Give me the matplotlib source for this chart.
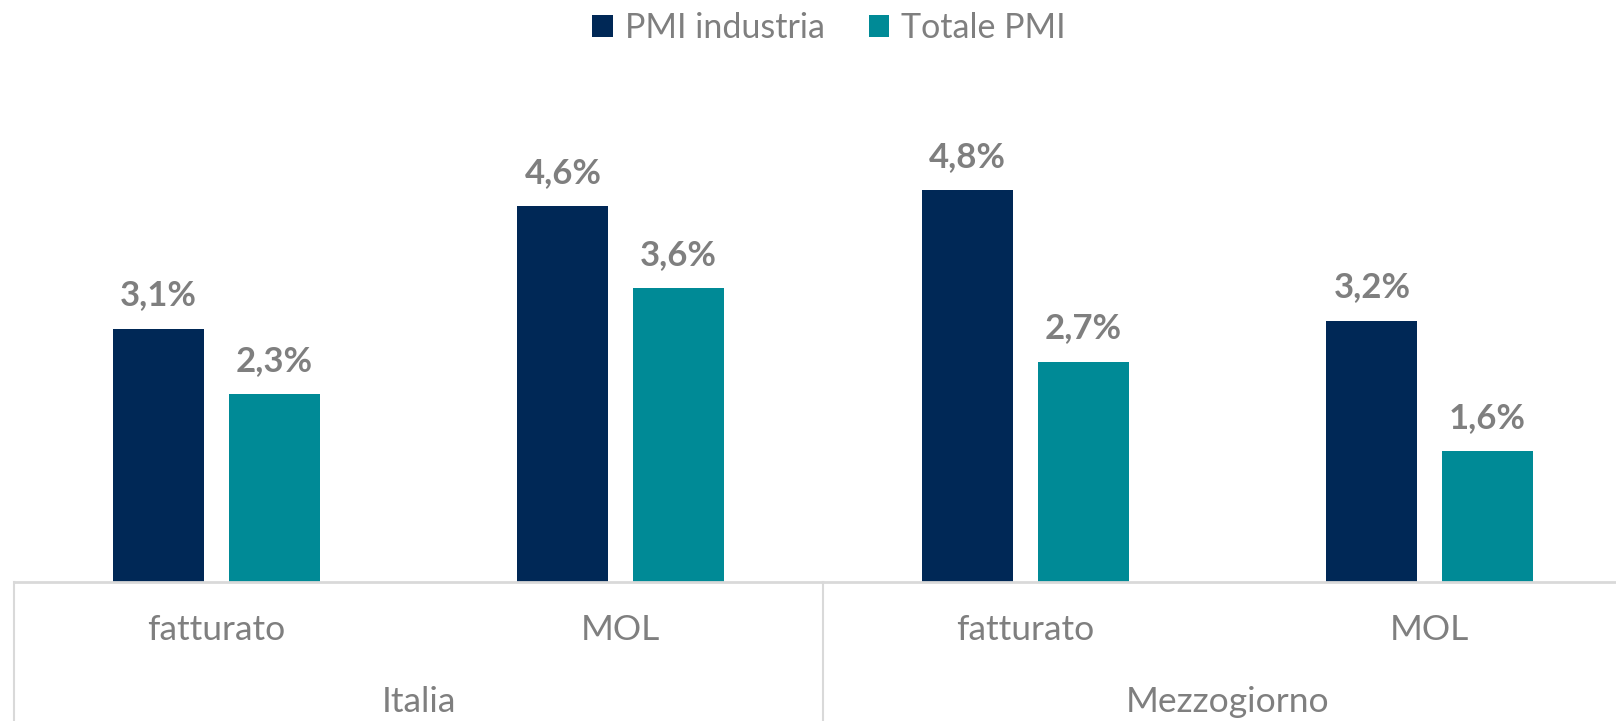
import matplotlib
matplotlib.use("Agg")
import matplotlib.pyplot as plt
from matplotlib.patches import Patch
import numpy as np

plt.rcParams['font.family'] = ['Lato', 'DejaVu Sans']

categories = ["fatturato", "MOL", "fatturato", "MOL"]
groups = ["Italia", "Mezzogiorno"]
series_names = ["PMI industria", "Totale PMI"]
pmi_industria = [3.1, 4.6, 4.8, 3.2]
totale_pmi = [2.3, 3.6, 2.7, 1.6]

c_navy = "#002856"
c_teal = "#008A96"
c_text = "#7F7F7F"
c_line = "#D9D9D9"

W, H = 1616, 721
fig = plt.figure(figsize=(W / 100, H / 100), dpi=100)
ax_left, ax_right = 14, 1632
ax_top, ax_bot = 88, 582
ax = fig.add_axes([ax_left / W, 1 - ax_bot / H, (ax_right - ax_left) / W, (ax_bot - ax_top) / H])

x = np.arange(len(categories))
bw = 0.225
off = 0.143
b1 = ax.bar(x - off, pmi_industria, bw, color=c_navy)
b2 = ax.bar(x + off, totale_pmi, bw, color=c_teal)

ax.set_xlim(-0.5, 3.5)
ax.set_ylim(0, 6.05)
for s in ax.spines.values():
    s.set_visible(False)
ax.set_xticks([])
ax.set_yticks([])

for bars, vals in ((b1, pmi_industria), (b2, totale_pmi)):
    for rect, v in zip(bars, vals):
        ax.annotate(f"{v:.1f}%".replace(".", ","),
                    (rect.get_x() + rect.get_width() / 2, rect.get_height()),
                    xytext=(0, 24), textcoords="offset points",
                    ha="center", va="center", fontsize=25, fontweight="bold", color=c_text)

axh = ax_bot - ax_top
ybottom = -(H - ax_bot) / axh
tr = ax.get_xaxis_transform()
ax.plot([-0.5, 3.5], [0, 0], transform=tr, color=c_line, lw=2, clip_on=False)
for xv in (-0.5, 1.5, 3.5):
    ax.plot([xv, xv], [0, ybottom], transform=tr, color=c_line, lw=1.5, clip_on=False)

y_cat = -(630 - ax_bot) / axh
y_grp = -(702 - ax_bot) / axh
for xi, c in zip(x, categories):
    ax.text(xi, y_cat, c, transform=tr, ha="center", va="center", fontsize=25.5, color=c_text)
for gi, g in enumerate(groups):
    ax.text(0.5 + 2 * gi, y_grp, g, transform=tr, ha="center", va="center", fontsize=25.5, color=c_text)

handles = [Patch(facecolor=c_navy), Patch(facecolor=c_teal)]
fig.legend(handles, series_names, loc="center", bbox_to_anchor=(829 / W, 1 - 28 / H),
           ncol=2, frameon=False, fontsize=24.5, labelcolor=c_text,
           handlelength=0.6, handleheight=0.6, handletextpad=0.35, columnspacing=1.3)

fig.savefig("out.png", dpi=100)
